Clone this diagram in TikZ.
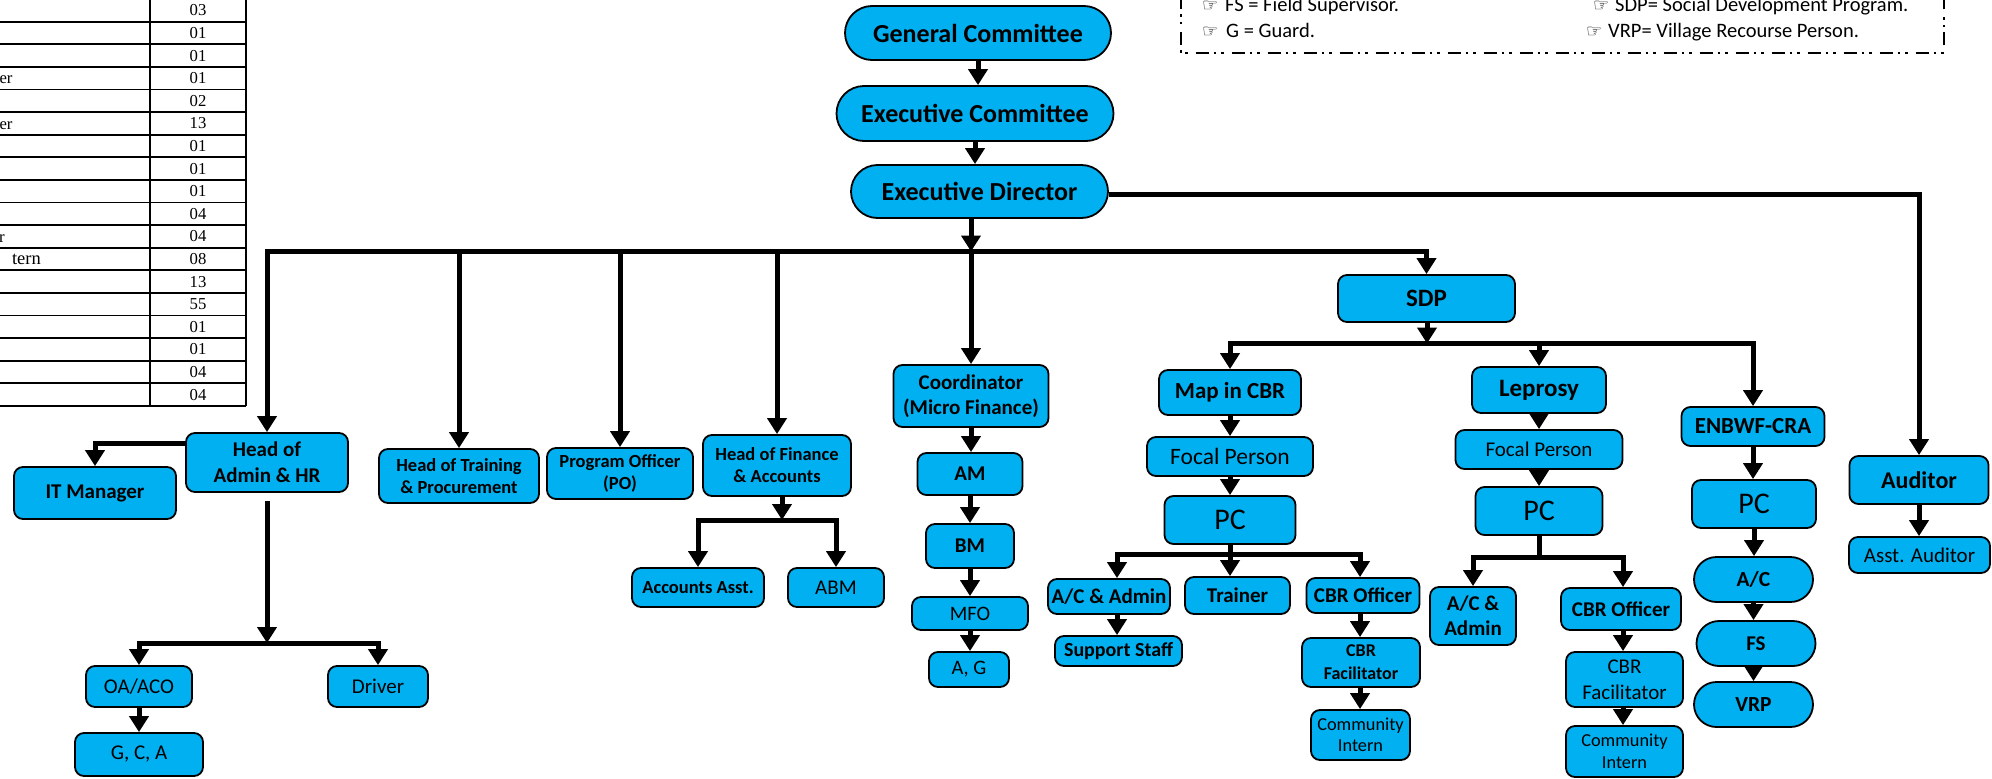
\documentclass[tikz,border=0pt]{standalone}
\usepackage{fontspec}
\setmainfont{Carlito}
\newfontfamily\tabfont{Liberation Serif}
\newfontfamily\symfont{DejaVu Sans}
\usetikzlibrary{arrows.meta,shapes.misc}
\definecolor{boxblue}{RGB}{0,176,240}
\pgfdeclarelayer{bg}
\pgfsetlayers{bg,main}
\tikzset{
 bx/.style={draw=black, line width=1.8pt, fill=boxblue, rounded corners=9pt, inner sep=0pt, align=center},
 pl/.style={draw=black, line width=1.8pt, fill=boxblue, rounded rectangle, inner sep=0pt, align=center},
 sz/.style 2 args={minimum width=#1pt, minimum height=#2pt},
 fb/.style 2 args={font=\fontsize{#1}{#2}\selectfont\bfseries},
 fr/.style 2 args={font=\fontsize{#1}{#2}\selectfont},
 conn/.style={line width=5pt},
 arr/.style={-{Triangle[width=19pt,length=16pt]}},
 tab/.style={line width=1.8pt},
 lg/.style={anchor=base west, inner sep=0pt, font=\fontsize{20.5}{24}\selectfont},
 hand/.style={anchor=base west, inner sep=0pt, font=\symfont\fontsize{18}{20}\selectfont},
 tnum/.style={font=\tabfont\fontsize{16.7}{20}\selectfont, inner sep=0pt},
 tfrag/.style={anchor=base east, font=\tabfont\fontsize{16.7}{20}\selectfont, inner sep=0pt},
}
\begin{document}
\begin{tikzpicture}[x=1pt,y=-1pt]
\useasboundingbox (0,0) rectangle (1992,779);
\clip (0,0) rectangle (1992,779);

% ---------- table fragment (top left) ----------
\foreach \k in {0,...,18} \draw[tab] (-5,{-0.9+22.6*\k}) -- (246,{-0.9+22.6*\k});
\draw[tab] (150,-0.9) -- (150,405.9);
\draw[tab] (246,-0.9) -- (246,405.9);
\foreach \v [count=\k from 0] in {03,01,01,01,02,13,01,01,01,04,04,08,13,55,01,01,04,04}
  \node[tnum] (t\k) at (198,{-0.9+22.6*\k+11.3}) {\v};
\node[tfrag] (f3) at (12.7,{-0.9+22.6*3+17}) {er};
\node[tfrag] (f5) at (12.7,{-0.9+22.6*5+17}) {er};
\node[tfrag] (f10) at (5,{-0.9+22.6*10+17}) {r};
\node[tfrag, font=\tabfont\fontsize{18.5}{20}\selectfont] (f11) at (41,{-0.9+22.6*11+17}) {tern};

% ---------- legend (top right) ----------
\draw[line width=2pt, dash pattern=on 13pt off 5pt on 2.5pt off 5pt on 2.5pt off 8pt] (1180.7,-40) rectangle (1944,53);
\node[hand] (h1) at (1202,11.5) {☞};
\node[lg] (l1) at (1225,11.5) {FS = Field Supervisor.};
\node[hand] (h2) at (1202,37.3) {☞};
\node[lg] (l2) at (1226,37.3) {G = Guard.};
\node[hand] (h3) at (1593,11.5) {☞};
\node[lg] (l3) at (1615,11.5) {SDP= Social Development Program.};
\node[hand] (h4) at (1586,37.3) {☞};
\node[lg] (l4) at (1608,37.3) {VRP= Village Recourse Person.};

% ---------- nodes ----------
\node[pl, sz={266}{54}, fb={26}{31}] (gc) at (978,33) {General Committee};
\node[pl, sz={277}{55}, fb={26}{31}] (ec) at (975,113.5) {Executive Committee};
\node[pl, sz={257}{53}, fb={26}{31}] (ed) at (979.5,191.5) {Executive Director};

\node[bx, sz={162}{59}, fb={21}{26}] (hoa) at (267,462.5) {Head of\\Admin \& HR};
\node[bx, sz={162}{52}, fb={21}{25}] (itm) at (95,493) {IT Manager};
\node[bx, sz={106}{41}, fr={21}{25}] (oa) at (139,686.5) {OA/ACO};
\node[bx, sz={128}{43}, fr={21}{25}] (gca) at (139,754.5) {G, C, A};
\node[bx, sz={100}{41}, fr={21}{25}] (drv) at (378,686.5) {Driver};

\node[bx, sz={160}{54}, fb={18.5}{21.7}] (hot) at (459,476) {Head of Training\\\& Procurement};
\node[bx, sz={146}{51}, fb={18.5}{22}] (po) at (620,473.5) {Program Officer\\(PO)};
\node[bx, sz={148}{61}, fb={18.5}{22}] (hof) at (777,465.5) {Head of Finance\\\& Accounts};
\node[bx, sz={132}{39}, fb={18.5}{22}] (acca) at (698,587.5) {Accounts Asst.};
\node[bx, sz={96}{39}, fr={21}{25}] (abm) at (836,587.5) {ABM};

\node[bx, sz={155}{62}, fb={21}{24.5}] (coo) at (971,396) {Coordinator\\(Micro Finance)};
\node[bx, sz={105}{42}, fb={21}{25}] (am) at (970,474) {AM};
\node[bx, sz={88}{44}, fb={21}{25}] (bm) at (970,546) {BM};
\node[bx, sz={116}{33}, fr={20.5}{24}] (mfo) at (970,613.5) {MFO};
\node[bx, sz={80}{35}, fr={20.5}{24}] (ag) at (969,669.5) {A, G};

\node[bx, sz={177}{47}, fb={25}{30}] (sdp) at (1426.5,298.5) {SDP};

\node[bx, sz={142}{45}, fb={23}{27}] (map) at (1230,392.5) {Map in CBR};
\node[bx, sz={166}{39}, fr={23.5}{28}] (fp1) at (1230,456.5) {Focal Person};
\node[bx, sz={131}{48}, fr={30}{36}] (pc1) at (1230,520) {PC};
\node[bx, sz={122}{35}, fb={21}{25}] (aca1) at (1109,596.5) {A/C \& Admin};
\node[bx, sz={127}{30}, fb={20}{24}] (ss) at (1118.5,651) {Support Staff};
\node[bx, sz={105}{37}, fb={21}{25}] (trn) at (1237.5,595.5) {Trainer};
\node[bx, sz={113}{35}, fb={21}{25}] (cbo1) at (1363,595.5) {CBR Officer};
\node[bx, sz={118}{49}, fb={18}{23}] (cbf1) at (1361,662.5) {CBR\\Facilitator};
\node[bx, sz={99}{50}, fr={18.3}{21.5}] (ci1) at (1360.5,735) {Community\\Intern};

\node[bx, sz={134}{46}, fb={25}{30}] (lep) at (1539,390) {Leprosy};
\node[bx, sz={167}{39}, fr={21}{25}] (fp2) at (1539,449.5) {Focal Person};
\node[bx, sz={127}{48}, fr={30}{36}] (pc2) at (1539,511) {PC};
\node[bx, sz={86}{58}, fb={21}{25}] (aca2) at (1473,616) {A/C \&\\Admin};
\node[bx, sz={120}{42}, fb={21}{25}] (cbo2) at (1621,609) {CBR Officer};
\node[bx, sz={117}{55}, fr={21}{26}] (cbf2) at (1624.5,679.5) {CBR\\Facilitator};
\node[bx, sz={117}{51}, fr={18.3}{21.5}] (ci2) at (1624.5,751.5) {Community\\Intern};

\node[bx, sz={143}{39}, fb={23}{27}] (enb) at (1753,426.5) {ENBWF-CRA};
\node[bx, sz={124}{48}, fr={30}{36}] (pc3) at (1754,504) {PC};
\node[pl, sz={119}{45}, fb={21.5}{25}] (ac3) at (1753.5,579.5) {A/C};
\node[pl, sz={119}{45}, fb={21}{25}] (fs) at (1756,643.5) {FS};
\node[pl, sz={119}{45}, fb={21.5}{25}] (vrp) at (1753.5,704.5) {VRP};

\node[bx, sz={139}{48}, fb={24}{28}] (aud) at (1919,480) {Auditor};
\node[bx, sz={141}{36}, fr={21}{25}] (asa) at (1919.5,555) {Asst. Auditor};

% ---------- connectors ----------
\coordinate (bj) at (971,251.5);
\coordinate (hj) at (267,643);
\coordinate (fj) at (782,520);
\coordinate (sj) at (1427,343.5);
\coordinate (pj1) at (1230,554);
\coordinate (d1) at (1117,554);
\coordinate (c1x) at (1360,554);
\coordinate (pj2) at (1539,557);
\coordinate (c2x) at (1623,557);

\begin{pgfonlayer}{bg}
\draw[conn,arr] (gc.south) -- (gc.south |- ec.north);
\draw[conn,arr] (ec.south) -- (ec.south |- ed.north);
\draw[conn,arr] (ed.south -| bj) -- (bj);
\draw[conn,arr] (bj) -| (hoa.north);
\draw[conn,arr] (bj) -| (sdp.north);
\draw[conn,arr] (hot.north |- bj) -- (hot.north);
\draw[conn,arr] (po.north |- bj) -- (po.north);
\draw[conn,arr] (hof.north |- bj) -- (hof.north);
\draw[conn,arr] (bj) -- (bj |- coo.north);
\draw[conn,arr] ([yshift=-3pt]ed.east) -| (aud.north);

\draw[conn,arr] ([yshift=19pt]hoa.west) -| (itm.north);
\draw[conn,arr] ([yshift=-8pt]hoa.south) -- (hj);
\draw[conn,arr] (hj) -| (oa.north);
\draw[conn,arr] (hj) -| (drv.north);
\draw[conn,arr] (oa.south) -- (oa.south |- gca.north);

\draw[conn,arr] (hof.south -| fj) -- (fj);
\draw[conn,arr] (fj) -| (acca.north);
\draw[conn,arr] (fj) -| (abm.north);

\draw[conn,arr] (coo.south) -- (coo.south |- am.north);
\draw[conn,arr] (am.south) -- (am.south |- bm.north);
\draw[conn,arr] (bm.south) -- (bm.south |- mfo.north);
\draw[conn,arr] (mfo.south) -- (mfo.south |- ag.north);

\draw[conn,arr] (sdp.south -| sj) -- (sj);
\draw[conn,arr] (sj) -| (map.north);
\draw[conn,arr] (sj) -| (enb.north);
\draw[conn,arr] (lep.north |- sj) -- (lep.north);

\draw[conn,arr] (map.south) -- (map.south |- fp1.north);
\draw[conn,arr] (fp1.south) -- (fp1.south |- pc1.north);
\draw[conn] (pc1.south -| pj1) -- (pj1);
\draw[conn,arr] (pj1) -- (d1) -- (d1 |- aca1.north);
\draw[conn,arr] (pj1) -- (pj1 |- trn.north);
\draw[conn,arr] (pj1) -- (c1x) -- (c1x |- cbo1.north);
\draw[conn,arr] (aca1.south -| d1) -- (d1 |- ss.north);
\draw[conn,arr] (cbo1.south -| c1x) -- (c1x |- cbf1.north);
\draw[conn,arr] (cbf1.south -| c1x) -- (c1x |- ci1.north);

\draw[conn,arr] (lep.south) -- (lep.south |- fp2.north);
\draw[conn,arr] (fp2.south) -- (fp2.south |- pc2.north);
\draw[conn] (pc2.south -| pj2) -- (pj2);
\draw[conn,arr] (pj2) -| (aca2.north);
\draw[conn,arr] (pj2) -- (c2x) -- (c2x |- cbo2.north);
\draw[conn,arr] (cbo2.south -| c2x) -- (c2x |- cbf2.north);
\draw[conn,arr] (cbf2.south -| c2x) -- (c2x |- ci2.north);

\draw[conn,arr] (enb.south) -- (enb.south |- pc3.north);
\draw[conn,arr] (pc3.south) -- (pc3.south |- ac3.north);
\draw[conn,arr] (ac3.south) -- (ac3.south |- fs.north);
\draw[conn,arr] (fs.south -| ac3.south) -- (ac3.south |- vrp.north);

\draw[conn,arr] (aud.south) -- (aud.south |- asa.north);
\end{pgfonlayer}
\end{tikzpicture}
\end{document}
